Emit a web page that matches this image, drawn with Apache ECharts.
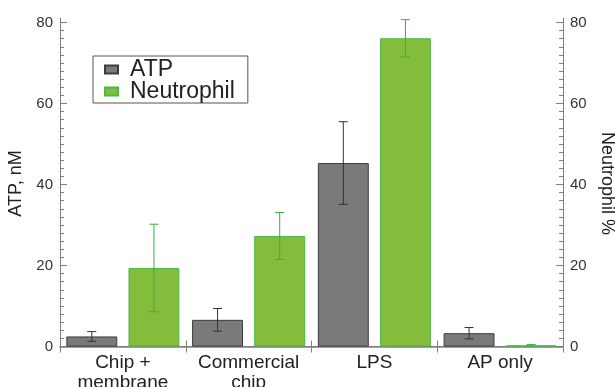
<!DOCTYPE html>
<html><head><meta charset="utf-8">
<script src="https://cdn.jsdelivr.net/npm/echarts@6/dist/echarts.min.js"></script>
<style>html,body{margin:0;padding:0;background:#fff}#c{width:615px;height:387px}</style>
</head><body><div id="c"></div>
<script>
const categories = ['Chip +\nmembrane', 'Commercial\nchip', 'LPS', 'AP only'];
const atpValues = [2.5, 6.6, 45.3, 3.3];
const atpErrors = [1.2, 2.8, 10.2, 1.4];
const neutValues = [19.4, 27.3, 76.1, 0.3];
const neutErrors = [10.8, 5.8, 4.6, 0.2];
const majorTicks = [0, 20, 40, 60, 80];
const minorTicks = [];
for (let v = 2; v < 81; v += 2) { if (v % 20 !== 0) minorTicks.push(v); }

const FONT = 'Liberation Sans, Arial, sans-serif';
const AX = '#808080';
const BAR_W = 0.405, BAR_GAP = 0.22;
const OFF = BAR_W * (1 + BAR_GAP) / 2;

function errSeries(name, vals, errs, yIdx, sign, color) {
  return {
    type: 'custom', name: name, yAxisIndex: yIdx, z: 5, silent: true,
    encode: {x: 0, y: [1, 2]},
    data: vals.map((v, i) => [i, v - errs[i], v + errs[i]]),
    renderItem: function (params, api) {
      const x = api.value(0);
      const lo = api.coord([x, api.value(1)]);
      const hi = api.coord([x, api.value(2)]);
      const bw = api.size([1, 0])[0];
      const cx = lo[0] + sign * bw * OFF;
      const h = 4.5;
      const st = {stroke: color, lineWidth: 1};
      return {type: 'group', children: [
        {type: 'line', shape: {x1: cx, y1: lo[1], x2: cx, y2: hi[1]}, style: st},
        {type: 'line', shape: {x1: cx - h, y1: lo[1], x2: cx + h, y2: lo[1]}, style: st},
        {type: 'line', shape: {x1: cx - h, y1: hi[1], x2: cx + h, y2: hi[1]}, style: st}
      ]};
    }
  };
}

function yAx(pos, labels, name, gap, rot) {
  return {
    type: 'value', position: pos, min: -0.6, max: 81.1,
    name: name, nameLocation: 'middle', nameGap: gap, nameRotate: rot,
    nameTextStyle: {fontFamily: FONT, fontSize: 18, color: '#222'},
    axisLine: {show: true, lineStyle: {color: AX, width: 1}},
    axisTick: {show: true, inside: true, length: 7, customValues: majorTicks, lineStyle: {color: AX}},
    axisLabel: {show: labels, customValues: majorTicks, margin: 7, fontFamily: FONT, fontSize: 15, color: '#333'},
    splitLine: {show: false}
  };
}
function yMinor(pos) {
  return {
    type: 'value', position: pos, min: -0.6, max: 81.1,
    axisLine: {show: false},
    axisTick: {show: true, inside: true, length: 4, customValues: minorTicks, lineStyle: {color: AX}},
    axisLabel: {show: false, customValues: minorTicks},
    splitLine: {show: false}
  };
}

const chart = echarts.init(document.getElementById('c'), null, {renderer: 'canvas'});
chart.setOption({
  animation: false,
  grid: {left: 60, right: 52, top: 18, bottom: 38, outerBoundsMode: 'none', containLabel: false},
  legend: {
    left: 93, top: 56, orient: 'vertical',
    data: ['ATP', 'Neutrophil'],
    icon: 'rect', itemWidth: 13, itemHeight: 8, itemGap: -1,
    padding: [2, 13, 0, 11],
    borderColor: '#555', borderWidth: 1,
    textStyle: {fontFamily: FONT, fontSize: 23, color: '#222', lineHeight: 22, padding: [0, 0, 0, 7]}
  },
  xAxis: [
    {type: 'category', data: categories, position: 'bottom',
     axisLine: {show: true, lineStyle: {color: AX, width: 1.5}},
     axisTick: {show: true, inside: true, length: 6, alignWithLabel: false, lineStyle: {color: AX}},
     axisLabel: {margin: 4, fontFamily: FONT, fontSize: 19, color: '#222', lineHeight: 20, interval: 0}},
    {type: 'category', data: categories, position: 'top',
     axisLine: {show: true, lineStyle: {color: AX, width: 1}},
     axisTick: {show: true, inside: true, length: 6, alignWithLabel: false, lineStyle: {color: AX}},
     axisLabel: {show: false}}
  ],
  yAxis: [
    yAx('left', true, 'ATP, nM', 29, 90),
    yMinor('left'),
    yAx('right', true, 'Neutrophil %', 35, -90),
    yMinor('right')
  ],
  series: [
    {type: 'bar', name: 'ATP', data: atpValues, yAxisIndex: 0,
     barWidth: (BAR_W * 100) + '%', barGap: (BAR_GAP * 100) + '%',
     itemStyle: {color: '#7a7a7a', borderColor: '#3d3d3d', borderWidth: 1}},
    {type: 'bar', name: 'Neutrophil', data: neutValues, yAxisIndex: 2,
     barWidth: (BAR_W * 100) + '%', barGap: (BAR_GAP * 100) + '%',
     itemStyle: {color: '#84bc3b', borderColor: '#4cb848', borderWidth: 1}},
    errSeries('atpErr', atpValues, atpErrors, 0, -1, '#333333'),
    errSeries('neutErr', neutValues, neutErrors, 2, 1, '#3fae3f')
  ]
});
</script></body></html>
